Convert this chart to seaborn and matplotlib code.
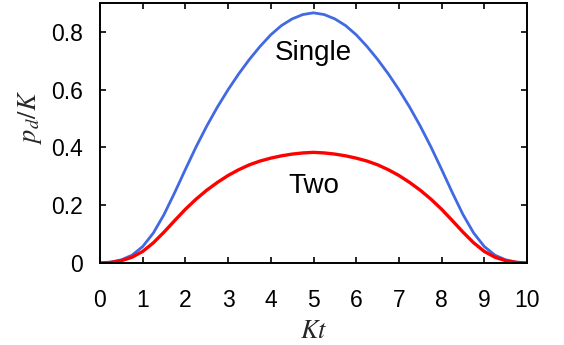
import matplotlib
matplotlib.use("Agg")
import matplotlib.pyplot as plt
import seaborn as sns
import pandas as pd

# Kt values (x axis)
kt = [0.0, 0.25, 0.5, 0.75, 1.0, 1.25, 1.5, 1.75, 2.0, 2.25, 2.5, 2.75, 3.0, 3.25, 3.5, 3.75,
      4.0, 4.25, 4.5, 4.75, 5.0, 5.25, 5.5, 5.75, 6.0, 6.25, 6.5, 6.75, 7.0, 7.25, 7.5, 7.75,
      8.0, 8.25, 8.5, 8.75, 9.0, 9.25, 9.5, 9.75, 10.0]

# p_d/K for a single excitation (blue)
single = [0.000, 0.003, 0.011, 0.027, 0.057, 0.104, 0.168, 0.244, 0.324, 0.402, 0.474, 0.540,
          0.600, 0.655, 0.705, 0.750, 0.790, 0.822, 0.845, 0.860, 0.866, 0.860, 0.845, 0.822,
          0.790, 0.750, 0.705, 0.655, 0.600, 0.540, 0.474, 0.402, 0.324, 0.244, 0.168, 0.104,
          0.057, 0.027, 0.011, 0.003, 0.000]

# p_d/K for two excitations (red)
two = [0.000, 0.002, 0.008, 0.020, 0.040, 0.070, 0.107, 0.147, 0.186, 0.221, 0.252, 0.279,
       0.303, 0.323, 0.340, 0.353, 0.363, 0.371, 0.377, 0.381, 0.383, 0.381, 0.377, 0.371,
       0.363, 0.353, 0.340, 0.323, 0.303, 0.279, 0.252, 0.221, 0.186, 0.147, 0.107, 0.070,
       0.040, 0.020, 0.008, 0.002, 0.000]

series_names = ["Single", "Two"]
xticks = list(range(0, 11))
yticks = [0, 0.2, 0.4, 0.6, 0.8]
ytick_labels = ["0", "0.2", "0.4", "0.6", "0.8"]

df = pd.DataFrame({
    "Kt": kt * 2,
    "p": single + two,
    "series": [series_names[0]] * len(kt) + [series_names[1]] * len(kt),
})

sns.set_theme(style="ticks")
plt.rcParams["font.family"] = ["Liberation Sans", "DejaVu Sans"]
plt.rcParams["mathtext.fontset"] = "stix"

fig = plt.figure(figsize=(5.64, 3.45), dpi=100)
ax = fig.add_axes([100 / 564, 1 - 263 / 345, 427 / 564, 260 / 345])

sns.lineplot(data=df, x="Kt", y="p", hue="series", palette={"Single": "#4169E1", "Two": "#FF0000"},
             linewidth=2.2, legend=False, ax=ax, sort=False)
for line, lw in zip(ax.get_lines(), [2.0, 2.4]):
    line.set_linewidth(lw)
    line.set_solid_joinstyle("round")

ax.set_xlim(0, 10)
ax.set_ylim(0, 0.9)
ax.set_xticks(xticks)
ax.set_xticklabels([str(t) for t in xticks])
ax.set_yticks(yticks)
ax.set_yticklabels(ytick_labels)

for s in ax.spines.values():
    s.set_visible(True)
    s.set_linewidth(1.4)
    s.set_color("black")

ax.tick_params(axis="both", direction="in", length=4, width=1.2, colors="black",
               labelsize=16.5, top=True, right=True)
ax.tick_params(axis="x", pad=19)
ax.tick_params(axis="y", pad=12)

ax.set_xlabel(r"$Kt$", fontsize=19)
ax.set_ylabel(r"$p_d/K$", fontsize=19)
ax.xaxis.set_label_coords(0.5, -0.215)
ax.yaxis.set_label_coords(-0.13, 0.56)

ax.text(5, 0.727, "Single", fontsize=20, ha="center", va="center", color="black")
ax.text(5, 0.267, "Two", fontsize=20, ha="center", va="center", color="black")

fig.savefig("out.png", dpi=100)
